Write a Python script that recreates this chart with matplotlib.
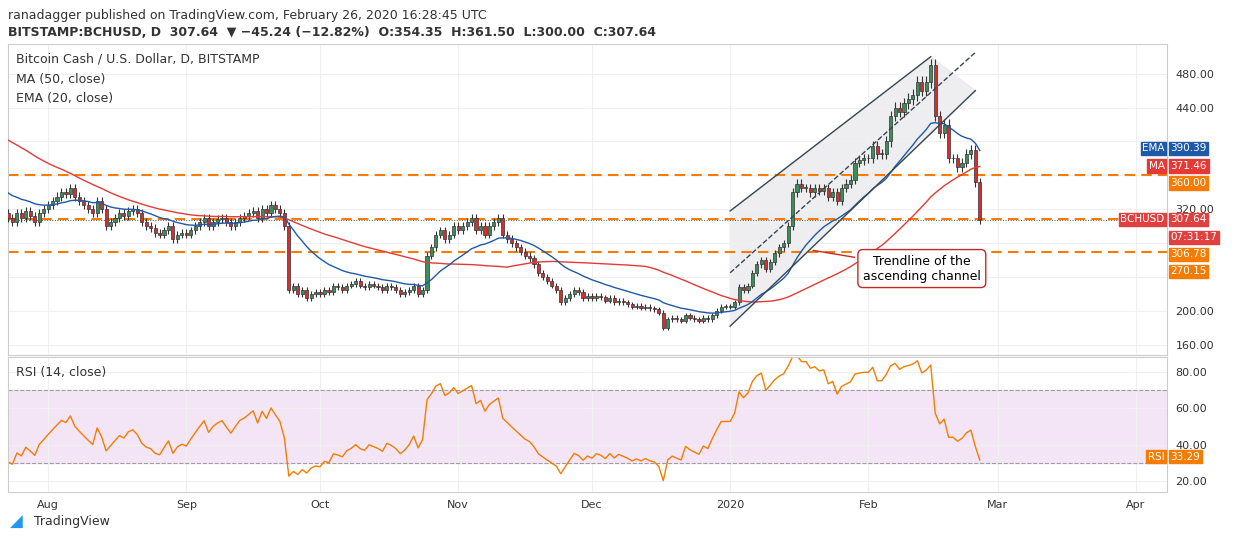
import numpy as np
import pandas as pd
import matplotlib.pyplot as plt
from matplotlib.patches import Rectangle

def compute_ma(close,n):
    """计算简单移动平均"""
    return pd.Series(close).rolling(n).mean().values

def compute_ema(close,n):
    """计算指数移动平均"""
    return pd.Series(close).ewm(span=n,adjust=False).mean().values

def compute_rsi(close,n):
    """计算RSI (Wilder)"""
    diff = np.diff(close,prepend=close[0])
    up = pd.Series(np.clip(diff,0,None)).ewm(alpha=1/n,adjust=False).mean()
    dn = pd.Series(np.clip(-diff,0,None)).ewm(alpha=1/n,adjust=False).mean()
    return (100-100/(1+up/dn)).values

def main():
    pre = [450,460,455,470,465,475,480,470,460,465,455,450,445,460,470,475,465,455,450,440,
           445,435,430,425,430,420,410,415,405,400,
           390,380,372,365,355,350,352,340,345,335,330,338,325,330,315,322,312,318,305,316]  # 历史数据
    close = [310,305,315,310,318,312,305,315,320,
             325,330,335,340,338,345,335,330,325,320,315,330,320,300,305,
             310,315,312,318,320,315,305,300,298,292,290,295,300,285,290,292,
             290,295,300,305,310,300,305,308,310,305,300,305,310,312,315,318,310,320,315,325,
             320,315,300,225,230,220,225,215,220,222,
             220,225,222,230,228,225,230,232,235,230,228,232,230,228,225,230,228,225,220,222,
             225,230,220,225,265,275,290,295,285,290,300,
             295,300,305,310,295,300,290,300,305,310,290,285,280,275,270,265,262,255,245,240,
             235,230,225,210,215,220,225,222,215,218,
             215,218,216,212,215,210,212,210,208,205,206,204,205,203,202,198,180,190,192,190,
             188,195,192,190,188,192,190,195,200,205,205,
             205,210,228,225,230,245,255,260,250,258,268,275,280,300,340,350,345,345,340,345,
             342,345,335,340,330,345,350,355,375,378,380,
             380,395,385,385,400,430,440,435,445,450,455,470,460,470,490,430,410,420,380,380,
             370,375,385,390,352,307.64]
    allc = np.array(pre+close,dtype=float)
    ma = compute_ma(allc,50)[len(pre):]
    ema = compute_ema(allc,20)[len(pre):]
    rsi = compute_rsi(allc,14)[len(pre):]
    close = np.array(close)
    opn = np.r_[pre[-1],close[:-1]]              # 开盘价取前一日收盘
    dates = pd.date_range('2019-07-23',periods=len(close))
    x = dates.to_pydatetime()

    plt.rcParams['font.family'] = ['DejaVu Sans']
    plt.figure(figsize=(12.34,5.41),dpi=100)
    W,H = 1234,541
    ax = plt.axes([8/W,1-355/H,1159/W,311/H])
    ax.set_facecolor('white')
    for d,o,c in zip(x,opn,close):               # 画K线
        hi,lo = max(o,c)*1.015,min(o,c)*0.985
        ax.vlines(d,lo,hi,color='#333333',lw=0.8,zorder=3)
        ax.bar(d,max(abs(c-o),0.8),bottom=min(o,c),width=0.7,
               color='#3c8c5c' if c>=o else '#d32f2f',edgecolor='#333333',lw=0.5,zorder=4)
    ax.plot(x,ma,color='#e53935',lw=1,zorder=5)
    ax.plot(x,ema,color='#1e5aa8',lw=1,zorder=5)
    # 上升通道
    t = pd.to_datetime(['2020-01-01','2020-02-25'])
    tu = pd.to_datetime(['2020-01-01','2020-02-15'])
    ax.fill([tu[0],tu[1],t[1],t[0]],[318,500,460,182],color='#e8e8ec',alpha=0.7,zorder=1)
    ax.plot(tu,[318,500],color='#37474f',lw=1,zorder=6)
    ax.plot(t,[182,460],color='#37474f',lw=1,zorder=6)
    ax.plot(t,[245,505],color='#37474f',lw=1,ls='--',zorder=6)
    for lv in [360,308,270]:                     # 水平支撑/阻力
        ax.axhline(lv,color='#f57c00',lw=1.5,ls=(0,(5,3)),zorder=2)
    ax.axhline(307.64,color='#555555',lw=0.7,ls=':',zorder=2)
    ax.set_yticks(range(160,481,40))
    ax.grid(color='#f0f0f0',lw=0.8)
    ax.set_xlim(pd.Timestamp('2019-07-23'),pd.Timestamp('2020-04-08'))
    ax.set_ylim(148,515)
    ax.yaxis.tick_right()
    shown = [160,200,320,440,480]                # 被价格标签遮住的刻度不显示
    ax.set_yticklabels(['%.2f'%v if v in shown else '' for v in range(160,481,40)],fontsize=8,color='#333333')
    ax.tick_params(axis='x',labelbottom=False,length=0)
    ax.tick_params(axis='y',length=0,pad=6)
    for s in ax.spines.values(): s.set_color('#cccccc')
    ax.text(0.007,0.94,'Bitcoin Cash / U.S. Dollar, D, BITSTAMP',transform=ax.transAxes,fontsize=9,color='#333333')
    ax.text(0.007,0.875,'MA (50, close)',transform=ax.transAxes,fontsize=9,color='#333333')
    ax.text(0.007,0.815,'EMA (20, close)',transform=ax.transAxes,fontsize=9,color='#333333')
    ax.annotate('Trendline of the\nascending channel',xy=(pd.Timestamp('2020-01-19'),272),
                xytext=(pd.Timestamp('2020-02-13'),250),fontsize=9,ha='center',va='center',
                bbox=dict(boxstyle='round,pad=0.4',fc='white',ec='#c62828'),
                arrowprops=dict(arrowstyle='-',color='#c62828'),zorder=8)
    labels = [(392,'390.39','#1e5aa8','EMA'),(371,'371.46','#e53935','MA'),
              (351,'360.00','#f57c00',None),(308,'307.64','#e04040','BCHUSD'),
              (287,'07:31:17','#e04040',None),(267,'306.78','#f57c00',None),(247,'270.15','#f57c00',None)]
    for v,txt,col,name in labels:               # 右侧价格标签
        ax.text(1.003,v,txt,transform=ax.get_yaxis_transform(),fontsize=7.5,color='white',
                va='center',bbox=dict(boxstyle='square,pad=0.15',fc=col,ec=col))
        if name:
            ax.text(0.998,v,name,transform=ax.get_yaxis_transform(),fontsize=7.5,color='white',
                    va='center',ha='right',bbox=dict(boxstyle='square,pad=0.15',fc=col,ec=col))

    ax2 = plt.axes([8/W,1-492/H,1159/W,135/H],sharex=ax)
    ax2.add_patch(Rectangle((0,30),1,40,transform=ax2.get_yaxis_transform(),color='#f3e5f5',zorder=0))
    ax2.axhline(70,color='#9e9e9e',lw=0.8,ls='--')
    ax2.axhline(30,color='#9e9e9e',lw=0.8,ls='--')
    ax2.plot(x,rsi,color='#f57c00',lw=1)
    ax2.set_ylim(14,88)
    ax2.yaxis.tick_right()
    ax2.set_yticks([20,40,60,80])
    ax2.set_yticklabels(['20.00','40.00','60.00','80.00'],fontsize=8,color='#333333')
    ax2.grid(color='#f0f0f0',lw=0.8)
    ticks = pd.to_datetime(['2019-08-01','2019-09-01','2019-10-01','2019-11-01','2019-12-01',
                            '2020-01-01','2020-02-01','2020-03-01','2020-04-01'])
    ax2.set_xticks(ticks)
    ax2.set_xticklabels(['Aug','Sep','Oct','Nov','Dec','2020','Feb','Mar','Apr'],fontsize=8,color='#333333')
    ax2.tick_params(length=0,pad=6)
    for s in ax2.spines.values(): s.set_color('#cccccc')
    ax2.text(0.007,0.86,'RSI (14, close)',transform=ax2.transAxes,fontsize=9,color='#333333')
    ax2.text(0.998,33.29,'RSI',transform=ax2.get_yaxis_transform(),fontsize=7.5,color='white',ha='right',
             va='center',bbox=dict(boxstyle='square,pad=0.15',fc='#f57c00',ec='#f57c00'))
    ax2.text(1.003,33.29,'33.29',transform=ax2.get_yaxis_transform(),fontsize=7.5,color='white',
             va='center',bbox=dict(boxstyle='square,pad=0.15',fc='#f57c00',ec='#f57c00'))

    plt.figtext(8/W,1-15/H,'ranadagger published on TradingView.com, February 26, 2020 16:28:45 UTC',
                fontsize=9,color='#333333',va='center')
    plt.figtext(8/W,1-32/H,'BITSTAMP:BCHUSD, D  307.64  \u25bc \u221245.24 (\u221212.82%)  O:354.35  H:361.50  L:300.00  C:307.64',
                fontsize=9,color='#333333',va='center',fontweight='bold')
    plt.figtext(34/W,1-522/H,'TradingView',fontsize=9,color='#333333',va='center')
    plt.figtext(10/W,1-522/H,'\u25e2',fontsize=12,color='#2196f3',va='center')
    plt.savefig('out.png',dpi=100)

if __name__ == "__main__":
    main()
